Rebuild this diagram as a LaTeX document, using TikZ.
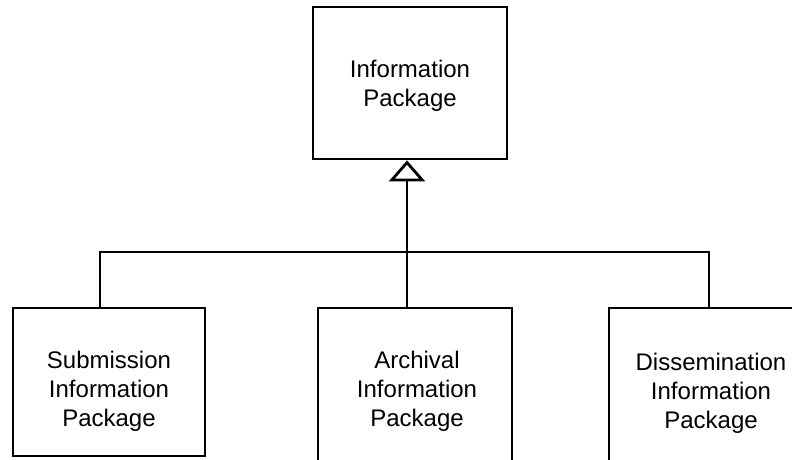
\documentclass[tikz,border=0pt]{standalone}
\usepackage{fontspec}
\setmainfont{Liberation Sans}
\usetikzlibrary{arrows.meta}
\begin{document}
\begin{tikzpicture}[x=1pt,y=1pt,
  box/.style={draw=black, line width=2.8pt, fill=white, inner sep=0pt},
  txt/.style={align=center, inner sep=0pt, font=\fontsize{24}{29}\selectfont},
  conn/.style={draw=black, line width=2.8pt}]
\useasboundingbox (0,0) rectangle (792,-459);
\clip (0,0) rectangle (792,-459);
% boxes
\node[box, minimum width=194pt, minimum height=152pt] (ip)  at (410,-83) {};
\node[box, minimum width=192pt, minimum height=148pt] (sip) at (109,-382) {};
\node[box, minimum width=194pt, minimum height=170pt] (aip) at (415,-393) {};
\node[box, minimum width=204pt, minimum height=170pt] (dip) at (711,-393) {};
% texts
\node[txt] (ipt)  at (410,-85.5) {Information\\Package};
\node[txt] (sipt) at (109,-391) {Submission\\Information\\Package};
\node[txt] (aipt) at (417,-391.5) {Archival\\Information\\Package};
\node[txt] (dipt) at (711,-393) {Dissemination\\Information\\Package};
% connectors
\coordinate (jl) at (100,-252);
\coordinate (jm) at (407,-252);
\coordinate (jr) at (709,-252);
\draw[conn] (sip.north -| jl) -- (jl) -- (jr) -- (dip.north -| jr);
\draw[conn, -{Triangle[open, width=36pt, length=21pt, line width=2.8pt]}] (aip.north -| jm) -- (ip.south -| jm);
\end{tikzpicture}
\end{document}
